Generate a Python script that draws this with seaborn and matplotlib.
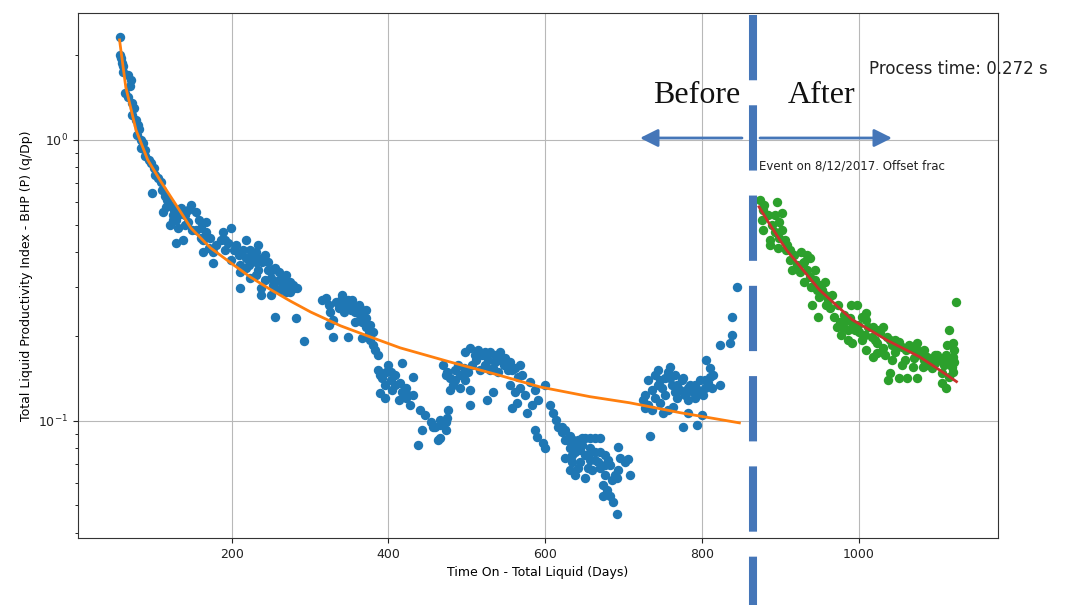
import matplotlib
matplotlib.use("Agg")
import matplotlib.pyplot as plt
import seaborn as sns
import pandas as pd

# ---------------- data ----------------
blue_days = [
    57, 57, 59, 60, 62, 61, 68, 71, 70, 64,
    68, 73, 75, 73, 78, 80, 82, 79, 84, 87,
    85, 90, 89, 94, 97, 101, 102, 106, 110, 99,
    111, 115, 117, 122, 127, 113, 120, 125, 129, 135,
    141, 145, 148, 154, 158, 161, 167, 164, 173, 132,
    138, 122, 129, 150, 171, 176, 180, 164, 176, 189,
    196, 203, 209, 211, 218, 224, 231, 234, 239, 243,
    247, 250, 256, 260, 265, 269, 273, 275, 279, 199,
    211, 224, 237, 250, 218, 234, 199, 211, 237, 256,
    282, 292, 278, 283, 186, 192, 222, 228, 253, 262,
    269, 320, 324, 326, 333, 341, 345, 352, 358, 364,
    362, 367, 371, 375, 377, 381, 383, 387, 330, 324,
    329, 349, 367, 358, 339, 354, 371, 387, 392, 396,
    390, 403, 409, 415, 418, 413, 422, 428, 431, 418,
    432, 400, 447, 454, 460, 466, 473, 475, 457, 438,
    443, 464, 405, 397, 441, 470, 475, 479, 482, 485,
    492, 496, 498, 502, 504, 479, 492, 476, 504, 473,
    466, 466, 498, 504, 515, 520, 527, 530, 536, 543,
    549, 555, 553, 547, 540, 524, 512, 507, 517, 534,
    562, 566, 571, 533, 526, 555, 562, 568, 575, 581,
    587, 591, 583, 600, 558, 564, 577, 606, 610, 614,
    617, 622, 626, 632, 636, 587, 590, 597, 600, 622,
    629, 632, 634, 638, 642, 647, 651, 657, 664, 670,
    645, 651, 657, 664, 668, 670, 655, 642, 634, 626,
    638, 651, 660, 676, 680, 676, 689, 693, 692, 706,
    693, 708, 674, 679, 683, 674, 687, 692, 696, 702,
    725, 727, 731, 736, 740, 744, 747, 749, 753, 757,
    759, 762, 766, 769, 772, 775, 778, 782, 785, 789,
    791, 795, 798, 801, 804, 747, 757, 750, 763, 782,
    776, 794, 800, 734, 759, 776, 806, 810, 814, 808,
    813, 810, 823, 823, 836, 838, 838, 845,
    116, 125, 141, 154, 161, 145, 167, 132,
    192, 205, 214, 222, 231, 239, 247, 252, 260, 265,
    271, 243, 256, 275, 231, 218,
    316, 337, 343, 349, 354, 364, 372, 377, 380,
    390, 403, 409, 422, 425, 396,
    473, 485, 489, 498,
    511, 524, 536, 549, 558, 568, 543, 530,
    626, 638, 647, 657, 664, 645, 655, 670, 683, 676, 632, 686,
    731, 736, 744, 753, 766, 769, 782, 791, 798, 804, 727, 740,
]
blue_vals = [
    2.33, 2.01, 1.96, 1.88, 1.83, 1.75, 1.70, 1.64, 1.56, 1.47,
    1.42, 1.35, 1.30, 1.23, 1.18, 1.13, 1.09, 1.04, 1.00, 0.976,
    0.936, 0.921, 0.877, 0.849, 0.828, 0.795, 0.751, 0.732, 0.709, 0.648,
    0.664, 0.632, 0.611, 0.587, 0.563, 0.554, 0.587, 0.541, 0.519, 0.573,
    0.541, 0.511, 0.587, 0.554, 0.519, 0.486, 0.471, 0.441, 0.448, 0.486,
    0.441, 0.498, 0.430, 0.478, 0.413, 0.399, 0.423, 0.399, 0.365, 0.471,
    0.430, 0.406, 0.390, 0.359, 0.380, 0.406, 0.368, 0.345, 0.368, 0.390,
    0.345, 0.323, 0.350, 0.318, 0.305, 0.331, 0.293, 0.313, 0.297, 0.374,
    0.339, 0.323, 0.297, 0.281, 0.441, 0.423, 0.486, 0.297, 0.281, 0.234,
    0.233, 0.193, 0.305, 0.297, 0.441, 0.406, 0.359, 0.390, 0.305, 0.293,
    0.288, 0.274, 0.259, 0.244, 0.265, 0.281, 0.259, 0.248, 0.244, 0.238,
    0.259, 0.225, 0.215, 0.206, 0.194, 0.186, 0.179, 0.172, 0.229, 0.220,
    0.199, 0.199, 0.197, 0.225, 0.270, 0.270, 0.248, 0.152, 0.142, 0.134,
    0.126, 0.140, 0.146, 0.136, 0.127, 0.119, 0.121, 0.114, 0.124, 0.161,
    0.143, 0.158, 0.105, 0.0989, 0.0948, 0.101, 0.0929, 0.102, 0.0955, 0.0822,
    0.0929, 0.0856, 0.129, 0.149, 0.109, 0.158, 0.149, 0.142, 0.134, 0.152,
    0.146, 0.154, 0.140, 0.149, 0.129, 0.129, 0.131, 0.109, 0.114, 0.0989,
    0.0968, 0.0872, 0.176, 0.182, 0.179, 0.172, 0.165, 0.176, 0.172, 0.165,
    0.168, 0.162, 0.152, 0.158, 0.149, 0.158, 0.165, 0.158, 0.152, 0.154,
    0.154, 0.143, 0.146, 0.127, 0.119, 0.134, 0.127, 0.131, 0.124, 0.138,
    0.129, 0.119, 0.114, 0.134, 0.111, 0.116, 0.107, 0.114, 0.107, 0.101,
    0.0948, 0.0915, 0.0929, 0.0885, 0.0856, 0.0929, 0.0878, 0.0835, 0.0803, 0.0948,
    0.0856, 0.0803, 0.0757, 0.0822, 0.0856, 0.0872, 0.0872, 0.0872, 0.0872, 0.0872,
    0.0788, 0.0757, 0.0726, 0.0775, 0.0714, 0.0680, 0.0680, 0.0680, 0.0714, 0.0738,
    0.0643, 0.0627, 0.0669, 0.0697, 0.0726, 0.0643, 0.0643, 0.0669, 0.0627, 0.0732,
    0.0809, 0.0643, 0.0592, 0.0568, 0.0540, 0.0540, 0.0514, 0.0467, 0.0738, 0.0714,
    0.119, 0.124, 0.114, 0.109, 0.146, 0.152, 0.140, 0.131, 0.124, 0.149,
    0.142, 0.134, 0.127, 0.121, 0.129, 0.140, 0.124, 0.119, 0.134, 0.127,
    0.121, 0.129, 0.140, 0.124, 0.131, 0.116, 0.109, 0.107, 0.112, 0.107,
    0.0955, 0.0968, 0.105, 0.0885, 0.156, 0.142, 0.165, 0.154, 0.146, 0.136,
    0.131, 0.143, 0.134, 0.186, 0.190, 0.202, 0.234, 0.300,
    0.578, 0.519, 0.498, 0.478, 0.448, 0.563, 0.511, 0.541,
    0.441, 0.423, 0.406, 0.380, 0.399, 0.380, 0.368, 0.345, 0.339, 0.323,
    0.313, 0.318, 0.297, 0.288, 0.331, 0.350,
    0.270, 0.252, 0.244, 0.270, 0.259, 0.252, 0.233, 0.220, 0.207,
    0.146, 0.149, 0.134, 0.131, 0.124, 0.121,
    0.146, 0.140, 0.158, 0.149,
    0.172, 0.176, 0.162, 0.158, 0.152, 0.158, 0.176, 0.152,
    0.0856, 0.0775, 0.0822, 0.0803, 0.0726, 0.0714, 0.0757, 0.0775, 0.0697, 0.0757, 0.0669, 0.0617,
    0.140, 0.129, 0.134, 0.142, 0.146, 0.134, 0.131, 0.134, 0.127, 0.140, 0.111, 0.121,
]

green_days = [
    874, 896, 878, 902, 899, 903, 878, 887, 887, 897,
    906, 908, 912, 915, 927, 934, 938, 929, 934, 938,
    931, 940, 947, 953, 957, 950, 941, 948, 959, 963,
    969, 976, 972, 980, 986, 992, 978, 986, 992, 991,
    998, 1001, 1005, 1010, 1012, 1017, 1010, 1018, 1023, 1027,
    1031, 1036, 1040, 1043, 1048, 1052, 1056, 1061, 1068, 1074,
    1075, 1080, 1087, 1093, 1097, 1103, 1112, 1116, 1120, 1119,
    1120, 1116, 1107, 1106, 1112, 1040, 1037, 1052, 1062, 1074,
    1056, 1069, 1082, 1116, 1120, 1125, 1043, 1023, 1031, 1087,
    1094, 1010, 1018, 880, 884, 889, 893, 899, 909, 918,
    922, 925, 944, 950, 961, 982, 989, 999, 1004, 1021,
    1034, 1046, 1059, 1071, 1084, 1100, 1109, 1122,
    877, 893, 912, 931, 944, 957, 966, 974, 982, 995,
    1008, 1024, 1046, 1065, 1084, 1097, 1109, 1122, 1113,
]
green_vals = [
    0.611, 0.601, 0.563, 0.550, 0.511, 0.478, 0.478, 0.441, 0.423, 0.413,
    0.441, 0.406, 0.374, 0.345, 0.399, 0.390, 0.380, 0.365, 0.345, 0.325,
    0.313, 0.300, 0.293, 0.293, 0.281, 0.276, 0.259, 0.234, 0.259, 0.252,
    0.234, 0.225, 0.216, 0.216, 0.211, 0.223, 0.202, 0.194, 0.190, 0.259,
    0.259, 0.207, 0.234, 0.229, 0.216, 0.199, 0.179, 0.169, 0.190, 0.207,
    0.216, 0.199, 0.194, 0.186, 0.183, 0.191, 0.183, 0.179, 0.182, 0.190,
    0.179, 0.172, 0.169, 0.165, 0.161, 0.165, 0.172, 0.165, 0.169, 0.156,
    0.149, 0.143, 0.148, 0.136, 0.131, 0.148, 0.140, 0.142, 0.142, 0.142,
    0.158, 0.156, 0.156, 0.211, 0.190, 0.265, 0.165, 0.175, 0.182, 0.158,
    0.154, 0.242, 0.216, 0.587, 0.541, 0.498, 0.471, 0.448, 0.423, 0.390,
    0.359, 0.339, 0.318, 0.305, 0.270, 0.238, 0.233, 0.220, 0.194, 0.194,
    0.172, 0.176, 0.165, 0.168, 0.165, 0.172, 0.158, 0.179,
    0.519, 0.541, 0.406, 0.368, 0.345, 0.313, 0.281, 0.259, 0.225, 0.211,
    0.202, 0.211, 0.194, 0.186, 0.179, 0.172, 0.168, 0.162, 0.186,
]

fit_before_days = [57, 65, 78, 93, 110, 135, 148, 173, 199, 224, 250, 275,
                   301, 339, 377, 415, 479, 543, 594, 657, 708, 772, 848]
fit_before_vals = [2.27, 1.54, 1.085, 0.849, 0.709, 0.554, 0.486, 0.413, 0.365,
                   0.325, 0.293, 0.267, 0.244, 0.218, 0.199, 0.182, 0.162,
                   0.145, 0.132, 0.122, 0.116, 0.107, 0.0984]

fit_after_days = [873, 887, 908, 929, 950, 992, 1014, 1036, 1078, 1103, 1125]
fit_after_vals = [0.578, 0.499, 0.406, 0.345, 0.293, 0.229, 0.211, 0.194,
                  0.169, 0.152, 0.138]

event_day = 865
x_ticks = [200, 400, 600, 800, 1000]
x_label = "Time On - Total Liquid (Days)"
y_label = "Total Liquid Productivity Index - BHP (P) (q/Dp)"
event_text = "Event on 8/12/2017. Offset frac"
process_text = "Process time: 0.272 s"
before_text = "Before"
after_text = "After"

# ---------------- figure ----------------
plt.rcParams["font.family"] = ["DejaVu Sans"]
plt.rcParams["lines.scale_dashes"] = False

W, H = 1079, 605
fig = plt.figure(figsize=(W / 100, H / 100), dpi=100)
ax = fig.add_axes([78 / W, 1 - 538 / H, (998 - 78) / W, (538 - 13) / H])
ax.set_yscale("log")

blue_df = pd.DataFrame({"day": blue_days, "val": blue_vals})
green_df = pd.DataFrame({"day": green_days, "val": green_vals})
fitb_df = pd.DataFrame({"day": fit_before_days, "val": fit_before_vals})
fita_df = pd.DataFrame({"day": fit_after_days, "val": fit_after_vals})

sns.scatterplot(data=blue_df, x="day", y="val", color="#1f77b4", s=46,
                linewidth=0, ax=ax, zorder=2)
sns.scatterplot(data=green_df, x="day", y="val", color="#2ca02c", s=46,
                linewidth=0, ax=ax, zorder=2)
sns.lineplot(data=fitb_df, x="day", y="val", color="#ff7f0e", lw=2,
             estimator=None, sort=False, ax=ax, zorder=3)
sns.lineplot(data=fita_df, x="day", y="val", color="#c9302c", lw=2,
             estimator=None, sort=False, ax=ax, zorder=3)

ax.set_xlim(4, 1178)
ax.set_ylim(0.0383, 2.83)
ax.set_xticks(x_ticks)
ax.set_xticklabels([str(t) for t in x_ticks])
ax.grid(True, which="major", color="#b8b8b8", lw=0.8)
ax.set_axisbelow(True)
ax.tick_params(labelsize=9, colors="#222222")
for s in ax.spines.values():
    s.set_color("#333333")
ax.set_xlabel(x_label, fontsize=9, labelpad=4)
ax.set_ylabel(y_label, fontsize=9, labelpad=4)

# event dashed line (overlay, extends below the axes)
ax.plot([event_day, event_day], [0.996, -0.128],
        transform=ax.get_xaxis_transform(), clip_on=False,
        color="#4576b8", lw=5.8, dashes=(47, 18), zorder=5,
        solid_capstyle="butt", dash_capstyle="butt")

# before / after arrows
arrow_y = 1 - 138 / H
aprops = dict(arrowstyle="-|>,head_length=0.6,head_width=0.3",
              mutation_scale=18, lw=2, color="#4576b8",
              shrinkA=0, shrinkB=0)
ax.annotate("", xy=(640 / W, arrow_y), xytext=(742 / W, arrow_y),
            xycoords="figure fraction", textcoords="figure fraction",
            arrowprops=aprops)
ax.annotate("", xy=(892 / W, arrow_y), xytext=(760 / W, arrow_y),
            xycoords="figure fraction", textcoords="figure fraction",
            arrowprops=aprops)

fig.text(653 / W, 1 - 103 / H, before_text, family="Liberation Serif",
         fontsize=23, va="baseline", ha="left", color="#111111")
fig.text(788 / W, 1 - 103 / H, after_text, family="Liberation Serif",
         fontsize=23, va="baseline", ha="left", color="#111111")
fig.text(869 / W, 1 - 74 / H, process_text, fontsize=12,
         va="baseline", ha="left", color="#222222")
fig.text(759 / W, 1 - 170 / H, event_text, fontsize=8.5,
         va="baseline", ha="left", color="#222222")

fig.savefig("out.png", dpi=100)
